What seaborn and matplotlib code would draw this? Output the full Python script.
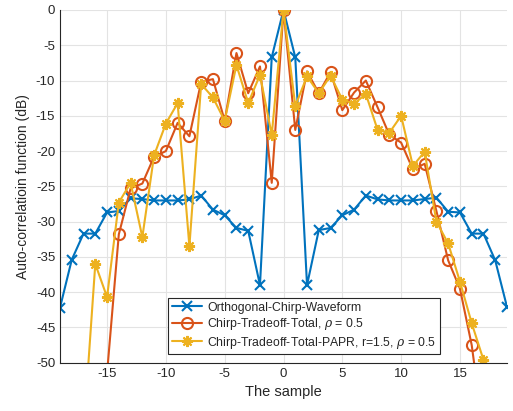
import matplotlib
matplotlib.use("Agg")
import matplotlib.pyplot as plt
import seaborn as sns
import numpy as np

# %% data
samples = list(range(-19, 20))

ortho = [-42.2, -35.4, -31.7, -31.7, -28.7, -28.5, -26.7, -26.8, -27.0, -27.0,
         -27.0, -26.85, -26.3, -28.3, -29.1, -30.9, -31.3, -39.0, -6.7, 0.0,
         -6.7, -39.0, -31.2, -30.9, -29.1, -28.3, -26.3, -26.85, -27.0, -27.0,
         -27.0, -26.8, -26.6, -28.6, -28.7, -31.7, -31.7, -35.5, -42.1]

# Chirp-Tradeoff-Total, samples -15 .. 17
total_x = list(range(-15, 18))
total = [-51.5, -31.8, -25.3, -24.6, -20.8, -20.0, -16.0, -17.9, -10.2, -9.8,
         -15.7, -6.1, -11.8, -8.0, -24.5, 0.0, -17.0, -8.7, -11.8, -8.8,
         -14.2, -11.7, -10.0, -13.8, -17.7, -18.8, -22.6, -21.8, -28.5, -35.5,
         -39.5, -47.5, -60.0]

# Chirp-Tradeoff-Total-PAPR, samples -17 .. 17
papr_x = list(range(-17, 18))
papr = [-60.0, -36.0, -40.7, -27.3, -24.5, -32.2, -20.6, -16.1, -13.2, -33.5,
        -10.5, -12.4, -15.7, -7.8, -13.2, -9.2, -17.7, 0.0, -13.6, -9.4,
        -11.8, -9.3, -12.7, -13.3, -11.9, -17.0, -17.4, -15.0, -22.1, -20.1,
        -30.0, -33.1, -38.5, -44.4, -49.6]

labels = ["Orthogonal-Chirp-Waveform",
          r"Chirp-Tradeoff-Total, $\rho$ = 0.5",
          r"Chirp-Tradeoff-Total-PAPR, r=1.5, $\rho$ = 0.5"]

# %% style
sns.set_style("white")
plt.rcParams["font.family"] = ["Liberation Sans", "DejaVu Sans"]
plt.rcParams["mathtext.fontset"] = "dejavuserif"
plt.rcParams["axes.unicode_minus"] = False

dark = "#262626"
blue, red, yellow = "#0072BD", "#D95319", "#EDB120"

fig = plt.figure(figsize=(5.13, 4.11), dpi=100)
ax = fig.add_axes([60 / 513, 48.3 / 411, 447 / 513, 352.7 / 411])

# seaborn paints marker edges white by default, so set them explicitly
sns.lineplot(x=samples, y=ortho, ax=ax, color=blue, lw=1.5, marker="x",
             markersize=7, markeredgewidth=1.5, markeredgecolor=blue,
             label=labels[0])
sns.lineplot(x=total_x, y=total, ax=ax, color=red, lw=1.5, marker="o",
             markersize=8, markerfacecolor="none", markeredgecolor=red,
             markeredgewidth=1.5, label=labels[1])
sns.lineplot(x=papr_x, y=papr, ax=ax, color=yellow, lw=1.5, marker=(8, 2, 0),
             markersize=8, markeredgewidth=1.5, markeredgecolor=yellow,
             label=labels[2])

ax.set_xlim(-19, 19)
ax.set_ylim(-50, 0)
ax.set_xticks([-15, -10, -5, 0, 5, 10, 15])
ax.set_yticks(np.arange(-50, 1, 5))
ax.grid(True, color="#e3e3e3", lw=0.8)
ax.set_axisbelow(True)

for s in ["top", "right"]:
    ax.spines[s].set_visible(False)
for s in ["left", "bottom"]:
    ax.spines[s].set_color(dark)
    ax.spines[s].set_linewidth(0.8)

ax.tick_params(direction="in", length=4, width=0.8, colors=dark, labelsize=9.5)
ax.set_xlabel("The sample", fontsize=10.5, color=dark)
ax.set_ylabel("Auto-correlatioin function (dB)", fontsize=10, color=dark)

leg = ax.legend(loc="lower left", bbox_to_anchor=(0.2416, 0.024), fontsize=8.8,
                fancybox=False, framealpha=1, edgecolor=dark, handlelength=2.5,
                borderpad=0.3, labelspacing=0.2, handletextpad=0.4, borderaxespad=0)
leg.get_frame().set_linewidth(0.8)

fig.savefig("out.png", dpi=100)
